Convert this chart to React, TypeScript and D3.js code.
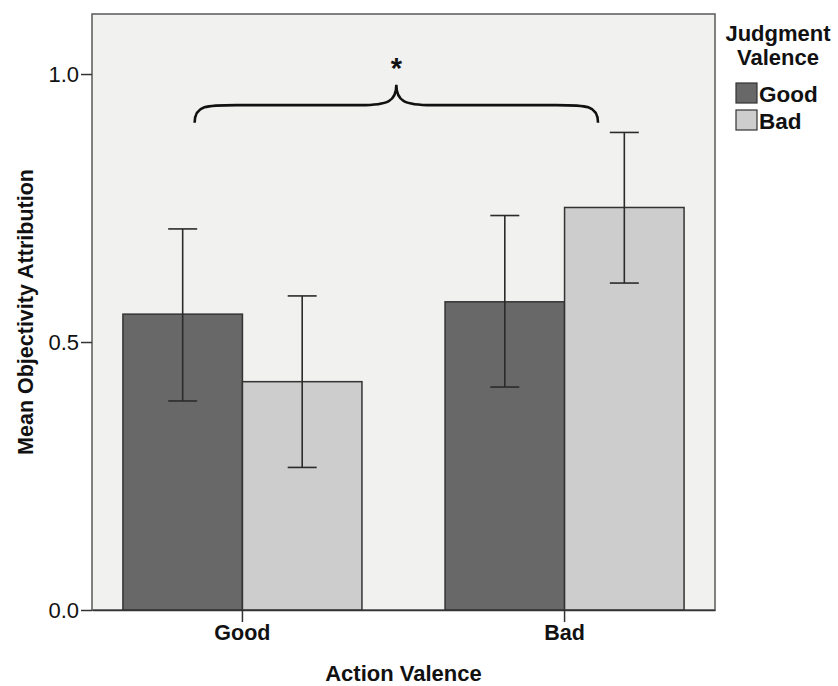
import React, { useEffect, useRef } from "react";
import * as d3 from "d3";

// Chart data
const actionValence = ["Good", "Bad"];
const judgmentValence = ["Good", "Bad"];
const meanGoodJudgment = [0.552, 0.575];
const meanBadJudgment = [0.426, 0.751];
const ciLowGoodJudgment = [0.39, 0.416];
const ciHighGoodJudgment = [0.711, 0.736];
const ciLowBadJudgment = [0.266, 0.61];
const ciHighBadJudgment = [0.586, 0.891];
const yTicks = [0.0, 0.5, 1.0];

const barColors = ["#686868", "#cdcdcd"];

const App = () => {
  const svgRef = useRef<SVGSVGElement>(null);

  useEffect(() => {
    const width = 838;
    const height = 686;
    const margin = { top: 14, right: 123, bottom: 76, left: 92 };
    const innerWidth = width - margin.left - margin.right;
    const innerHeight = height - margin.top - margin.bottom;
    const font = "'Liberation Sans', Arial, sans-serif";

    const svg = d3.select(svgRef.current);
    svg.selectAll("*").remove();
    svg.attr("width", width).attr("height", height);

    const g = svg
      .append("g")
      .attr("transform", `translate(${margin.left}, ${margin.top})`);

    // Build rows from the arrays
    const rows = actionValence.map((a, i) => ({
      action: a,
      values: [
        {
          judgment: judgmentValence[0],
          mean: meanGoodJudgment[i],
          lo: ciLowGoodJudgment[i],
          hi: ciHighGoodJudgment[i],
        },
        {
          judgment: judgmentValence[1],
          mean: meanBadJudgment[i],
          lo: ciLowBadJudgment[i],
          hi: ciHighBadJudgment[i],
        },
      ],
    }));

    // Scales
    const x0 = d3
      .scaleBand()
      .domain(actionValence)
      .range([0, innerWidth])
      .paddingInner(0.258)
      .paddingOuter(0.096);

    const x1 = d3
      .scaleBand()
      .domain(judgmentValence)
      .range([0, x0.bandwidth()]);

    const y = d3.scaleLinear().domain([0, 1.112]).range([innerHeight, 0]);

    const color = d3.scaleOrdinal<string>().domain(judgmentValence).range(barColors);

    // Plot background
    g.append("rect")
      .attr("width", innerWidth)
      .attr("height", innerHeight)
      .attr("fill", "#f1f1f0")
      .attr("stroke", "#5a5a5a")
      .attr("stroke-width", 1.5);

    // Bars
    const groups = g
      .selectAll(".group")
      .data(rows)
      .enter()
      .append("g")
      .attr("transform", (d) => `translate(${x0(d.action)}, 0)`);

    groups
      .selectAll("rect")
      .data((d) => d.values)
      .enter()
      .append("rect")
      .attr("x", (d) => x1(d.judgment)!)
      .attr("y", (d) => y(d.mean))
      .attr("width", x1.bandwidth())
      .attr("height", (d) => innerHeight - y(d.mean))
      .attr("fill", (d) => color(d.judgment))
      .attr("stroke", "#333")
      .attr("stroke-width", 1.5);

    // Error bars
    const cap = 14.5;
    const err = groups
      .selectAll(".err")
      .data((d) => d.values)
      .enter()
      .append("g")
      .attr("class", "err")
      .attr("stroke", "#2b2b2b")
      .attr("stroke-width", 1.6);

    const cx = (d: any) => x1(d.judgment)! + x1.bandwidth() / 2;

    err
      .append("line")
      .attr("x1", cx)
      .attr("x2", cx)
      .attr("y1", (d) => y(d.hi))
      .attr("y2", (d) => y(d.lo));
    err
      .append("line")
      .attr("x1", (d) => cx(d) - cap)
      .attr("x2", (d) => cx(d) + cap)
      .attr("y1", (d) => y(d.hi))
      .attr("y2", (d) => y(d.hi));
    err
      .append("line")
      .attr("x1", (d) => cx(d) - cap)
      .attr("x2", (d) => cx(d) + cap)
      .attr("y1", (d) => y(d.lo))
      .attr("y2", (d) => y(d.lo));

    // Y axis
    const yAxis = g
      .append("g")
      .call(
        d3
          .axisLeft(y)
          .tickValues(yTicks)
          .tickSize(11)
          .tickPadding(2)
          .tickFormat(d3.format(".1f"))
      );
    yAxis.select(".domain").remove();
    yAxis.selectAll("line").attr("stroke", "#333").attr("stroke-width", 1.5);
    yAxis
      .selectAll("text")
      .attr("fill", "#111")
      .style("font-family", font)
      .style("font-size", "22px");

    // X axis
    const xAxis = g
      .append("g")
      .attr("transform", `translate(0, ${innerHeight})`)
      .call(
        d3
          .axisBottom(x0)
          .tickSize(12)
          .tickPadding(3)
          .tickSizeOuter(0)
      );
    xAxis.select(".domain").attr("stroke", "#333").attr("stroke-width", 1.5);
    xAxis.selectAll("line").attr("stroke", "#333").attr("stroke-width", 1.5);
    xAxis
      .selectAll("text")
      .attr("fill", "#111")
      .style("font-family", font)
      .style("font-weight", "bold")
      .style("font-size", "21.5px");

    // Axis titles
    g.append("text")
      .attr("x", innerWidth / 2)
      .attr("y", innerHeight + 71)
      .attr("text-anchor", "middle")
      .style("font-family", font)
      .style("font-weight", "bold")
      .style("font-size", "22px")
      .attr("fill", "#111")
      .text("Action Valence");

    g.append("text")
      .attr("transform", "rotate(-90)")
      .attr("x", -innerHeight / 2)
      .attr("y", -59)
      .attr("text-anchor", "middle")
      .style("font-family", font)
      .style("font-weight", "bold")
      .style("font-size", "21.5px")
      .attr("fill", "#111")
      .text("Mean Objectivity Attribution");

    // Significance brace between the two action conditions
    const bx1 = x0("Good")! + x0.bandwidth() * 0.3;
    const bx2 = x0("Bad")! + x0.bandwidth() * 0.64;
    const bm = (bx1 + bx2) / 2;
    const yEnd = y(0.909);
    const yMid = y(0.942);
    const yPeak = y(0.98);
    const p = d3.path();
    p.moveTo(bx1, yEnd);
    p.bezierCurveTo(bx1, yMid, bx1 + 12, yMid, bx1 + 42, yMid);
    p.lineTo(bm - 36, yMid);
    p.bezierCurveTo(bm - 8, yMid, bm, yMid - 4, bm, yPeak);
    p.bezierCurveTo(bm, yMid - 4, bm + 8, yMid, bm + 36, yMid);
    p.lineTo(bx2 - 42, yMid);
    p.bezierCurveTo(bx2 - 12, yMid, bx2, yMid, bx2, yEnd);
    g.append("path")
      .attr("d", p.toString())
      .attr("fill", "none")
      .attr("stroke", "#111")
      .attr("stroke-width", 2.6);

    g.append("text")
      .attr("x", bm)
      .attr("y", y(0.992))
      .attr("text-anchor", "middle")
      .style("font-family", font)
      .style("font-weight", "bold")
      .style("font-size", "29px")
      .attr("fill", "#111")
      .text("*");

    // Legend
    const legend = svg.append("g").attr("transform", `translate(736, 0)`);
    legend
      .append("text")
      .attr("text-anchor", "middle")
      .style("font-family", font)
      .style("font-weight", "bold")
      .style("font-size", "22px")
      .attr("fill", "#111")
      .selectAll("tspan")
      .data(["Judgment", "Valence"])
      .enter()
      .append("tspan")
      .attr("x", 42)
      .attr("y", (d, i) => 41 + i * 24)
      .text((d) => d);

    const items = legend
      .selectAll(".item")
      .data(judgmentValence)
      .enter()
      .append("g")
      .attr("transform", (d, i) => `translate(0, ${83 + i * 27})`);

    items
      .append("rect")
      .attr("width", 21)
      .attr("height", 20)
      .attr("fill", (d) => color(d))
      .attr("stroke", "#333")
      .attr("stroke-width", 1.2);

    items
      .append("text")
      .attr("x", 23)
      .attr("y", 19)
      .style("font-family", font)
      .style("font-weight", "bold")
      .style("font-size", "22.5px")
      .attr("fill", "#111")
      .text((d) => d);
  }, []);

  return (
    <div style={{ position: "absolute", left: 0, top: 0 }}>
      <svg ref={svgRef} style={{ display: "block" }}></svg>
    </div>
  );
};

export default App;
